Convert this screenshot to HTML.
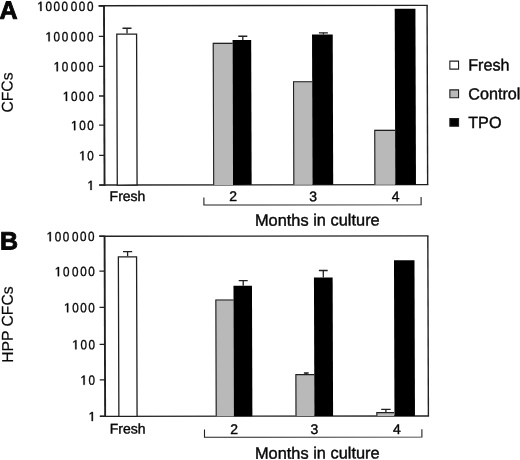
<!DOCTYPE html>
<html><head><meta charset="utf-8"><style>
html,body{margin:0;padding:0;background:#fff;overflow:hidden;}
svg{display:block;filter:grayscale(1);}
text{fill:#080808;stroke:#080808;stroke-width:0.4px;}
.bd{stroke-width:0.9px;}

</style></head><body>
<svg width="520" height="460" viewBox="0 0 520 460">
<rect width="520" height="460" fill="#fff"/>
<g transform="matrix(1 -0.0013 0.0032 1 -0.7360 0.3380)">
<line x1="104.7" y1="4.95" x2="104.7" y2="185.45" stroke="#202020" stroke-width="1.9"/>
<line x1="99.4" y1="184.85" x2="428.5" y2="184.85" stroke="#202020" stroke-width="1.4"/>
<line x1="99.4" y1="5.55" x2="428.5" y2="5.55" stroke="#222" stroke-width="1.4"/>
<line x1="427.8" y1="5.55" x2="427.8" y2="184.85" stroke="#222" stroke-width="1.4"/>
<line x1="99.4" y1="184.89" x2="104.7" y2="184.89" stroke="#202020" stroke-width="1.3"/>
<path d="M90.53,189.79 L90.53,182.07 L88.58,183.23 L88.58,182.26 L90.73,180.64 L91.83,180.64 L91.83,189.79 Z" fill="#080808" stroke="#080808" stroke-width="0.3" stroke-linejoin="round"/>
<line x1="99.4" y1="155.19" x2="104.7" y2="155.19" stroke="#202020" stroke-width="1.3"/>
<text transform="scale(0.88 1)" x="99.543" y="160.09" font-size="13.3" style="stroke-width:0.341px" font-family="Liberation Sans, sans-serif">0</text>
<path d="M82.43,160.09 L82.43,152.37 L80.48,153.53 L80.48,152.56 L82.63,150.94 L83.73,150.94 L83.73,160.09 Z" fill="#080808" stroke="#080808" stroke-width="0.3" stroke-linejoin="round"/>
<line x1="99.4" y1="124.99" x2="104.7" y2="124.99" stroke="#202020" stroke-width="1.3"/>
<text transform="scale(0.88 1)" x="90.339 99.543" y="129.89" font-size="13.3" style="stroke-width:0.341px" font-family="Liberation Sans, sans-serif">00</text>
<path d="M74.33,129.89 L74.33,122.17 L72.38,123.33 L72.38,122.36 L74.53,120.74 L75.63,120.74 L75.63,129.89 Z" fill="#080808" stroke="#080808" stroke-width="0.3" stroke-linejoin="round"/>
<line x1="99.4" y1="95.79" x2="104.7" y2="95.79" stroke="#202020" stroke-width="1.3"/>
<text transform="scale(0.88 1)" x="81.134 90.339 99.543" y="100.69" font-size="13.3" style="stroke-width:0.341px" font-family="Liberation Sans, sans-serif">000</text>
<path d="M66.23,100.69 L66.23,92.97 L64.28,94.13 L64.28,93.16 L66.43,91.54 L67.53,91.54 L67.53,100.69 Z" fill="#080808" stroke="#080808" stroke-width="0.3" stroke-linejoin="round"/>
<line x1="99.4" y1="66.09" x2="104.7" y2="66.09" stroke="#202020" stroke-width="1.3"/>
<text transform="scale(0.88 1)" x="70.793 81.134 90.339 99.543" y="70.99" font-size="13.3" style="stroke-width:0.341px" font-family="Liberation Sans, sans-serif">0000</text>
<path d="M57.13,70.99 L57.13,63.27 L55.18,64.43 L55.18,63.46 L57.33,61.84 L58.43,61.84 L58.43,70.99 Z" fill="#080808" stroke="#080808" stroke-width="0.3" stroke-linejoin="round"/>
<line x1="99.4" y1="36.19" x2="104.7" y2="36.19" stroke="#202020" stroke-width="1.3"/>
<text transform="scale(0.88 1)" x="61.589 70.793 81.134 90.339 99.543" y="41.09" font-size="13.3" style="stroke-width:0.341px" font-family="Liberation Sans, sans-serif">00000</text>
<path d="M49.03,41.09 L49.03,33.37 L47.08,34.53 L47.08,33.56 L49.23,31.94 L50.33,31.94 L50.33,41.09 Z" fill="#080808" stroke="#080808" stroke-width="0.3" stroke-linejoin="round"/>
<line x1="99.4" y1="5.79" x2="104.7" y2="5.79" stroke="#202020" stroke-width="1.3"/>
<text transform="scale(0.88 1)" x="52.384 61.589 70.793 81.134 90.339 99.543" y="10.69" font-size="13.3" style="stroke-width:0.341px" font-family="Liberation Sans, sans-serif">000000</text>
<path d="M40.93,10.69 L40.93,2.97 L38.98,4.13 L38.98,3.16 L41.13,1.54 L42.23,1.54 L42.23,10.69 Z" fill="#080808" stroke="#080808" stroke-width="0.3" stroke-linejoin="round"/>
<rect x="117.42" y="33.98" width="19.80" height="150.87" fill="#fff" stroke="#202020" stroke-width="1.3"/>
<rect x="213.29" y="42.75" width="19.90" height="142.10" fill="#b9b9b9"/>
<path d="M213.84 184.85 V43.30 H233.19" fill="none" stroke="#202020" stroke-width="1.1"/>
<rect x="233.19" y="40.08" width="18.60" height="144.77" fill="#000"/>
<rect x="293.45" y="81.26" width="19.20" height="103.59" fill="#b9b9b9"/>
<path d="M294.00 184.85 V81.81 H312.65" fill="none" stroke="#202020" stroke-width="1.1"/>
<rect x="312.65" y="34.68" width="20.70" height="150.17" fill="#000"/>
<rect x="374.52" y="129.96" width="20.90" height="54.89" fill="#b9b9b9"/>
<path d="M375.07 184.85 V130.51 H395.42" fill="none" stroke="#202020" stroke-width="1.1"/>
<rect x="395.42" y="8.99" width="20.70" height="175.86" fill="#000"/>
<line x1="127.65" y1="28.13" x2="127.65" y2="33.33" stroke="#202020" stroke-width="1.3"/>
<line x1="123.15" y1="28.13" x2="132.15" y2="28.13" stroke="#202020" stroke-width="1.4"/>
<line x1="243.42" y1="36.28" x2="243.42" y2="40.08" stroke="#202020" stroke-width="1.3"/>
<line x1="238.92" y1="36.28" x2="247.92" y2="36.28" stroke="#202020" stroke-width="1.4"/>
<line x1="324.03" y1="32.93" x2="324.03" y2="34.68" stroke="#202020" stroke-width="1.3"/>
<line x1="319.53" y1="32.93" x2="328.53" y2="32.93" stroke="#202020" stroke-width="1.4"/>
<text x="127.59" y="200.83" font-size="14" text-anchor="middle" font-family="Liberation Sans, sans-serif" >Fresh</text>
<text x="233.29" y="200.97" font-size="14" text-anchor="middle" font-family="Liberation Sans, sans-serif" >2</text>
<text x="313.29" y="201.37" font-size="14" text-anchor="middle" font-family="Liberation Sans, sans-serif" >3</text>
<text x="395.79" y="201.48" font-size="14" text-anchor="middle" font-family="Liberation Sans, sans-serif" >4</text>
<path d="M204.00 197.33 V204.95 H421.20 V197.33" fill="none" stroke="#202020" stroke-width="1.1"/>
<text x="254.92" y="225.69" font-size="16.4" text-anchor="start" font-family="Liberation Sans, sans-serif" >Months in culture</text>
<text x="0.08" y="18.46" font-size="25" text-anchor="start" font-weight="bold" font-family="Liberation Sans, sans-serif" class="bd">A</text>
<text transform="translate(13.04 92.18) rotate(-90)" font-size="15.7" text-anchor="middle" style="stroke-width:0.2px" font-family="Liberation Sans, sans-serif">CFCs</text>
<line x1="104.55" y1="235.5" x2="104.55" y2="416.75" stroke="#202020" stroke-width="1.9"/>
<line x1="99.25" y1="416.15" x2="428.5" y2="416.15" stroke="#202020" stroke-width="1.4"/>
<line x1="99.25" y1="236.1" x2="428.5" y2="236.1" stroke="#222" stroke-width="1.4"/>
<line x1="427.8" y1="236.1" x2="427.8" y2="416.15" stroke="#222" stroke-width="1.4"/>
<line x1="99.25" y1="415.99" x2="104.55" y2="415.99" stroke="#202020" stroke-width="1.3"/>
<path d="M91.03,420.89 L91.03,413.17 L89.08,414.33 L89.08,413.36 L91.23,411.74 L92.33,411.74 L92.33,420.89 Z" fill="#080808" stroke="#080808" stroke-width="0.3" stroke-linejoin="round"/>
<line x1="99.25" y1="379.59" x2="104.55" y2="379.59" stroke="#202020" stroke-width="1.3"/>
<text transform="scale(0.88 1)" x="100.111" y="384.49" font-size="13.3" style="stroke-width:0.341px" font-family="Liberation Sans, sans-serif">0</text>
<path d="M82.93,384.49 L82.93,376.77 L80.98,377.93 L80.98,376.96 L83.13,375.34 L84.23,375.34 L84.23,384.49 Z" fill="#080808" stroke="#080808" stroke-width="0.3" stroke-linejoin="round"/>
<line x1="99.25" y1="344.19" x2="104.55" y2="344.19" stroke="#202020" stroke-width="1.3"/>
<text transform="scale(0.88 1)" x="90.907 100.111" y="349.09" font-size="13.3" style="stroke-width:0.341px" font-family="Liberation Sans, sans-serif">00</text>
<path d="M74.83,349.09 L74.83,341.37 L72.88,342.53 L72.88,341.56 L75.03,339.94 L76.13,339.94 L76.13,349.09 Z" fill="#080808" stroke="#080808" stroke-width="0.3" stroke-linejoin="round"/>
<line x1="99.25" y1="307.19" x2="104.55" y2="307.19" stroke="#202020" stroke-width="1.3"/>
<text transform="scale(0.88 1)" x="81.702 90.907 100.111" y="312.09" font-size="13.3" style="stroke-width:0.341px" font-family="Liberation Sans, sans-serif">000</text>
<path d="M66.73,312.09 L66.73,304.37 L64.78,305.53 L64.78,304.56 L66.93,302.94 L68.03,302.94 L68.03,312.09 Z" fill="#080808" stroke="#080808" stroke-width="0.3" stroke-linejoin="round"/>
<line x1="99.25" y1="270.99" x2="104.55" y2="270.99" stroke="#202020" stroke-width="1.3"/>
<text transform="scale(0.88 1)" x="71.361 81.702 90.907 100.111" y="275.89" font-size="13.3" style="stroke-width:0.341px" font-family="Liberation Sans, sans-serif">0000</text>
<path d="M57.63,275.89 L57.63,268.17 L55.68,269.33 L55.68,268.36 L57.83,266.74 L58.93,266.74 L58.93,275.89 Z" fill="#080808" stroke="#080808" stroke-width="0.3" stroke-linejoin="round"/>
<line x1="99.25" y1="235.99" x2="104.55" y2="235.99" stroke="#202020" stroke-width="1.3"/>
<text transform="scale(0.88 1)" x="62.157 71.361 81.702 90.907 100.111" y="240.89" font-size="13.3" style="stroke-width:0.341px" font-family="Liberation Sans, sans-serif">00000</text>
<path d="M49.53,240.89 L49.53,233.17 L47.58,234.33 L47.58,233.36 L49.73,231.74 L50.83,231.74 L50.83,240.89 Z" fill="#080808" stroke="#080808" stroke-width="0.3" stroke-linejoin="round"/>
<rect x="118.28" y="256.78" width="18.20" height="159.37" fill="#fff" stroke="#202020" stroke-width="1.3"/>
<rect x="215.09" y="299.35" width="18.20" height="116.80" fill="#b9b9b9"/>
<path d="M215.64 416.15 V299.90 H233.29" fill="none" stroke="#202020" stroke-width="1.1"/>
<rect x="233.29" y="285.78" width="18.50" height="130.37" fill="#000"/>
<rect x="294.89" y="374.16" width="18.90" height="41.99" fill="#b9b9b9"/>
<path d="M295.44 416.15 V374.71 H313.79" fill="none" stroke="#202020" stroke-width="1.1"/>
<rect x="313.79" y="277.48" width="18.70" height="138.67" fill="#000"/>
<rect x="375.72" y="412.26" width="17.80" height="3.89" fill="#b9b9b9"/>
<path d="M376.27 416.15 V412.81 H393.52" fill="none" stroke="#202020" stroke-width="1.1"/>
<rect x="393.88" y="260.39" width="20.50" height="155.76" fill="#000"/>
<line x1="127.53" y1="251.43" x2="127.53" y2="256.13" stroke="#202020" stroke-width="1.3"/>
<line x1="122.93" y1="251.43" x2="132.13" y2="251.43" stroke="#202020" stroke-width="1.4"/>
<line x1="243.04" y1="280.58" x2="243.04" y2="285.78" stroke="#202020" stroke-width="1.3"/>
<line x1="238.54" y1="280.58" x2="247.54" y2="280.58" stroke="#202020" stroke-width="1.4"/>
<line x1="323.17" y1="270.58" x2="323.17" y2="277.48" stroke="#202020" stroke-width="1.3"/>
<line x1="318.77" y1="270.58" x2="327.57" y2="270.58" stroke="#202020" stroke-width="1.4"/>
<line x1="305.84" y1="373.06" x2="305.84" y2="374.16" stroke="#202020" stroke-width="1.3"/>
<line x1="303.44" y1="373.06" x2="308.24" y2="373.06" stroke="#202020" stroke-width="1.4"/>
<line x1="385.33" y1="409.56" x2="385.33" y2="412.26" stroke="#202020" stroke-width="1.3"/>
<line x1="380.63" y1="409.56" x2="390.03" y2="409.56" stroke="#202020" stroke-width="1.4"/>
<text x="126.95" y="433.33" font-size="14" text-anchor="middle" font-family="Liberation Sans, sans-serif" >Fresh</text>
<text x="233.55" y="433.87" font-size="14" text-anchor="middle" font-family="Liberation Sans, sans-serif" >2</text>
<text x="313.75" y="433.97" font-size="14" text-anchor="middle" font-family="Liberation Sans, sans-serif" >3</text>
<text x="396.35" y="434.08" font-size="14" text-anchor="middle" font-family="Liberation Sans, sans-serif" >4</text>
<path d="M203.85 429.43 V437.25 H421.25 V429.43" fill="none" stroke="#202020" stroke-width="1.1"/>
<text x="254.17" y="458.69" font-size="16.4" text-anchor="start" font-family="Liberation Sans, sans-serif" >Months in culture</text>
<text x="-0.06" y="249.26" font-size="25" text-anchor="start" font-weight="bold" font-family="Liberation Sans, sans-serif" class="bd">B</text>
<text transform="translate(12.50 324.28) rotate(-90)" font-size="15.7" text-anchor="middle" style="stroke-width:0.2px" font-family="Liberation Sans, sans-serif">HPP CFCs</text>
<rect x="450.39" y="61.40" width="8.70" height="8.00" fill="#fff" stroke="#202020" stroke-width="1.1"/>
<text x="468.71" y="70.87" font-size="16.2" text-anchor="start" font-family="Liberation Sans, sans-serif" >Fresh</text>
<rect x="450.30" y="90.10" width="8.70" height="7.90" fill="#b9b9b9" stroke="#202020" stroke-width="1.1"/>
<text x="468.62" y="99.67" font-size="16.2" text-anchor="start" font-family="Liberation Sans, sans-serif" >Control</text>
<rect x="450.21" y="118.90" width="8.70" height="7.60" fill="#000" stroke="#202020" stroke-width="1.1"/>
<text x="468.53" y="128.27" font-size="16.2" text-anchor="start" font-family="Liberation Sans, sans-serif" >TPO</text>
</g>
</svg></body></html>
